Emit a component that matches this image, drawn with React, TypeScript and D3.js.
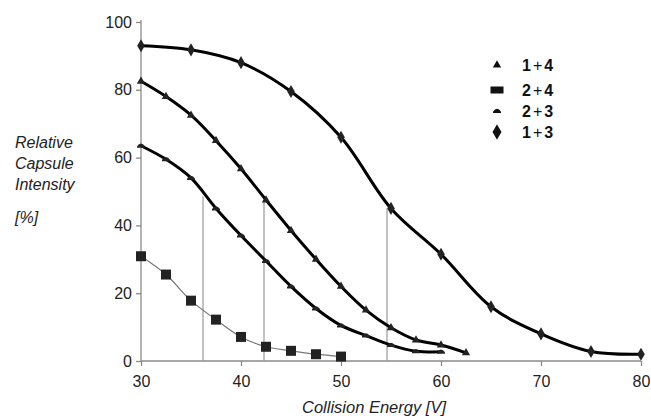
import React from "react";
import * as d3 from "d3";

// collision energy (V) and relative capsule intensity (%) per pair
const energy14 = [30, 32.5, 35, 37.5, 40, 42.5, 45, 47.5, 50, 52.5, 55, 57.5, 60, 62.5];
const values14 = [82.5, 78, 72.5, 65, 56.7, 47.5, 38.5, 30, 22, 15, 9.8, 6.2, 4.7, 2.4];

const energy24 = [30, 32.5, 35, 37.5, 40, 42.5, 45, 47.5, 50];
const values24 = [30.9, 25.5, 17.8, 12.2, 7.1, 4.2, 3, 2, 1.3];

const energy23 = [30, 32.5, 35, 37.5, 40, 42.5, 45, 47.5, 50, 52.5, 55, 57.5, 60];
const values23 = [63.5, 59.5, 54, 45, 37, 29.5, 22, 15.5, 10.5, 7.5, 4.7, 2.9, 2.7];

const energy13 = [30, 35, 40, 45, 50, 55, 60, 65, 70, 75, 80];
const values13 = [93, 91.8, 88, 79.5, 66, 45, 31.5, 16, 8, 2.8, 2];

// 50% drop lines
const dropEnergy = [36.2, 42.3, 54.6];
const dropValue = [48.5, 47, 45];

const xTicks = [30, 40, 50, 60, 70, 80];
const yTicks = [0, 20, 40, 60, 80, 100];
const legendLabels = [["1", "4"], ["2", "4"], ["2", "3"], ["1", "3"]];

export default function App() {
    const ref = React.useRef<SVGSVGElement>(null);

    React.useEffect(() => {
        drawChart();
    }, []);

    function drawChart() {
        const svg = d3.select(ref.current);
        svg.selectAll("*").remove();

        const x = d3.scaleLinear().domain([30, 80]).range([141, 641]);
        const y = d3.scaleLinear().domain([0, 100]).range([361, 22]);
        const font = "Liberation Sans, Arial, sans-serif";

        // axes
        const xAxis = d3.axisBottom(x).tickValues(xTicks).tickSize(5).tickPadding(10);
        const gx = svg.append("g").attr("transform", "translate(0,361)").call(xAxis);
        const yAxis = d3.axisLeft(y).tickValues(yTicks).tickSize(5).tickPadding(4);
        const gy = svg.append("g").attr("transform", "translate(141,0)").call(yAxis);
        [gx, gy].forEach((g) => {
            g.selectAll("path, line").attr("stroke", "#8a8a8a").attr("stroke-width", 1.3);
            g.selectAll("text")
                .attr("fill", "#222")
                .style("font-family", font)
                .style("font-size", "16px");
        });
        gx.select(".domain").attr("d", "M141,0H641");
        gy.select(".domain").attr("d", "M0,20V361");

        // drop lines
        dropEnergy.forEach((e, i) => {
            svg.append("line")
                .attr("x1", x(e))
                .attr("x2", x(e))
                .attr("y1", y(0))
                .attr("y2", y(dropValue[i]))
                .attr("stroke", "#999")
                .attr("stroke-width", 1.2);
        });

        const line = d3
            .line<[number, number]>()
            .x((d) => x(d[0]))
            .y((d) => y(d[1]))
            .curve(d3.curveCatmullRom.alpha(0.5));

        const pts = (e: number[], v: number[]) => e.map((d, i) => [d, v[i]] as [number, number]);

        const domePath = "M-4,2L-4,0.5Q0,-5 4,0.5L4,2Z";
        const series = [
            { data: pts(energy14, values14), sym: d3.symbol(d3.symbolTriangle, 30)(), color: "#000", width: 3 },
            { data: pts(energy24, values24), sym: d3.symbol(d3.symbolSquare, 100)(), color: "#777", width: 1.2 },
            { data: pts(energy23, values23), sym: domePath, color: "#000", width: 3 },
            { data: pts(energy13, values13), sym: d3.symbol(d3.symbolDiamond, 50)(), color: "#000", width: 3 },
        ];

        series.forEach((s) => {
            svg.append("path")
                .datum(s.data)
                .attr("fill", "none")
                .attr("stroke", s.color)
                .attr("stroke-width", s.width)
                .attr("d", line);
            svg.append("g")
                .selectAll("path")
                .data(s.data)
                .join("path")
                .attr("transform", (d) => `translate(${x(d[0])},${y(d[1])})`)
                .attr("d", s.sym)
                .attr("fill", "#222");
        });

        // legend
        const legend = svg.append("g").attr("transform", "translate(497,0)");
        const rows = [65, 90, 111, 132];
        const legendSyms = [
            d3.symbol(d3.symbolTriangle, 30)(),
            "M-6.5,-3.5H6.5V3.5H-6.5Z",
            domePath,
            d3.symbol(d3.symbolDiamond, 70)(),
        ];
        legendSyms.forEach((sym, i) => {
            legend.append("path")
                .attr("transform", `translate(0,${rows[i]})`)
                .attr("d", sym)
                .attr("fill", "#111");
            const t = legend.append("text")
                .attr("x", 25)
                .attr("y", rows[i] + 6)
                .style("font-family", font)
                .style("font-size", "16px")
                .style("font-weight", "bold")
                .attr("fill", "#111");
            t.append("tspan").text(legendLabels[i][0]);
            t.append("tspan").attr("dx", 2).style("font-weight", "normal").text("+");
            t.append("tspan").attr("dx", 2).text(legendLabels[i][1]);
        });

        // axis titles
        svg.append("text")
            .attr("x", 302)
            .attr("y", 413)
            .style("font-family", font)
            .style("font-size", "16.5px")
            .style("font-style", "italic")
            .attr("fill", "#222")
            .text("Collision Energy [V]");

        const yTitle = ["Relative", "Capsule", "Intensity"];
        yTitle.forEach((w, i) => {
            svg.append("text")
                .attr("x", 15)
                .attr("y", 148 + i * 21)
                .style("font-family", font)
                .style("font-size", "16px")
                .style("font-style", "italic")
                .attr("fill", "#222")
                .text(w);
        });
        svg.append("text")
            .attr("x", 15)
            .attr("y", 223)
            .style("font-family", font)
            .style("font-size", "16px")
            .style("font-style", "italic")
            .attr("fill", "#222")
            .text("[%]");
    }

    return (
        <svg
            ref={ref}
            width={651}
            height={419}
            style={{ position: "absolute", left: 0, top: 0, background: "#fff" }}
        />
    );
}
